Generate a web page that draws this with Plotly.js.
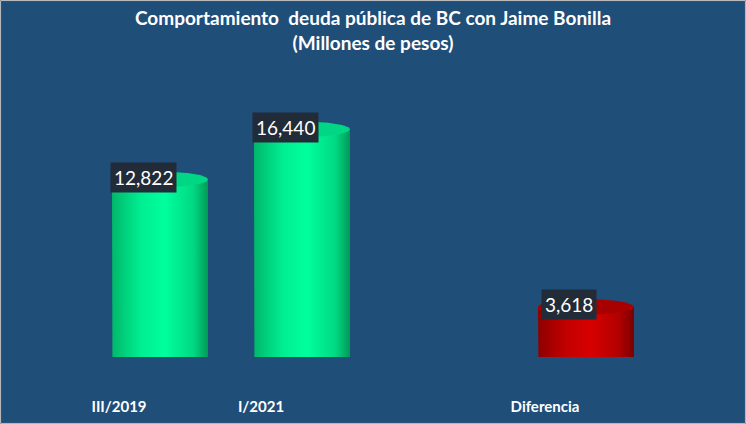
<!DOCTYPE html>
<html><head><meta charset="utf-8">
<script src="https://cdn.plot.ly/plotly-3.0.1.min.js"></script>
<style>html,body{margin:0;padding:0;background:#1F4E79;}#chart{width:746px;height:424px;}</style>
</head><body><div id="chart"></div>
<script>
const categories = ['III/2019', 'I/2021', '', 'Diferencia'];
const values = [12822, 16440, null, 3618];
const labels = ['12,822', '16,440', '', '3,618'];
const seriesKind = ['green', 'green', null, 'red'];

const palette = {
  green: {body: [[0,'#00B86A'],[0.3,'#00EE92'],[0.55,'#00FF9E'],[0.85,'#00D883'],[1,'#009A58']], top: '#00D684'},
  red:   {body: [[0,'#8E0000'],[0.3,'#C40000'],[0.55,'#D80000'],[0.85,'#B00000'],[1,'#7A0000']], top: '#A80000'}
};

const R = 0.338;   // half width in axis units
const RY = 560;    // ellipse half-height in value units
const N = 48;
const traces = [];
const annotations = [];

values.forEach((v, i) => {
  if (v === null) return;
  const pal = palette[seriesKind[i]];
  const bx = [], by = [];
  bx.push(i - R); by.push(v);
  bx.push(i - R); by.push(0);
  for (let k = 0; k <= N; k++) {
    const t = Math.PI + Math.PI * k / N;
    bx.push(i + R * Math.cos(t)); by.push(RY * Math.sin(t));
  }
  bx.push(i + R); by.push(v);
  bx.push(i - R); by.push(v);
  traces.push({x: bx, y: by, mode: 'lines', line: {width: 0}, fill: 'toself',
    fillgradient: {type: 'horizontal', colorscale: pal.body}, hoverinfo: 'skip', showlegend: false});
  const tx = [], ty = [];
  for (let k = 0; k <= N * 2; k++) {
    const t = 2 * Math.PI * k / (N * 2);
    tx.push(i + R * Math.cos(t)); ty.push(v + RY * Math.sin(t));
  }
  traces.push({x: tx, y: ty, mode: 'lines', line: {width: 0}, fill: 'toself',
    fillcolor: pal.top, hoverinfo: 'skip', showlegend: false});
  annotations.push({x: i, y: v, xref: 'x', yref: 'y', text: labels[i], showarrow: false,
    xshift: -17, yshift: 2, bgcolor: '#222B38', borderpad: 3,
    font: {family: 'Lato, sans-serif', size: 19, color: '#FFFFFF'}});
});

const W = 568, H = 277, L = 89, B = 67, T = 80;
const layout = {
  width: 746, height: 424,
  paper_bgcolor: '#1F4E79', plot_bgcolor: '#1F4E79',
  margin: {l: L, r: 89, t: T, b: B},
  title: {text: 'Comportamiento  deuda pública de BC con Jaime Bonilla<br>(Millones de pesos)',
    font: {family: 'Lato, sans-serif', size: 19, color: '#FFFFFF', weight: 'bold'},
    x: 0.5, xanchor: 'center', y: 0.94, yanchor: 'top'},
  xaxis: {range: [-0.5, 3.5], tickvals: [0, 1, 2, 3], ticktext: categories, showgrid: false,
    zeroline: false, showline: false, ticks: '', ticklabelshift: -41, ticklabelstandoff: 39,
    tickfont: {family: 'Lato, sans-serif', size: 15, color: '#FFFFFF', weight: 'bold'}, fixedrange: true},
  yaxis: {range: [0, 20000], visible: false, fixedrange: true},
  annotations: annotations,
  shapes: [{type: 'rect', xref: 'paper', yref: 'paper', x0: -L / W + 0.001, x1: 1 + 89 / W - 0.001,
    y0: -B / H + 0.002, y1: 1 + T / H - 0.002, line: {color: '#BFBFBF', width: 1}, fillcolor: 'rgba(0,0,0,0)'}]
};
Plotly.newPlot('chart', traces, layout, {displayModeBar: false, staticPlot: true});
</script></body></html>
